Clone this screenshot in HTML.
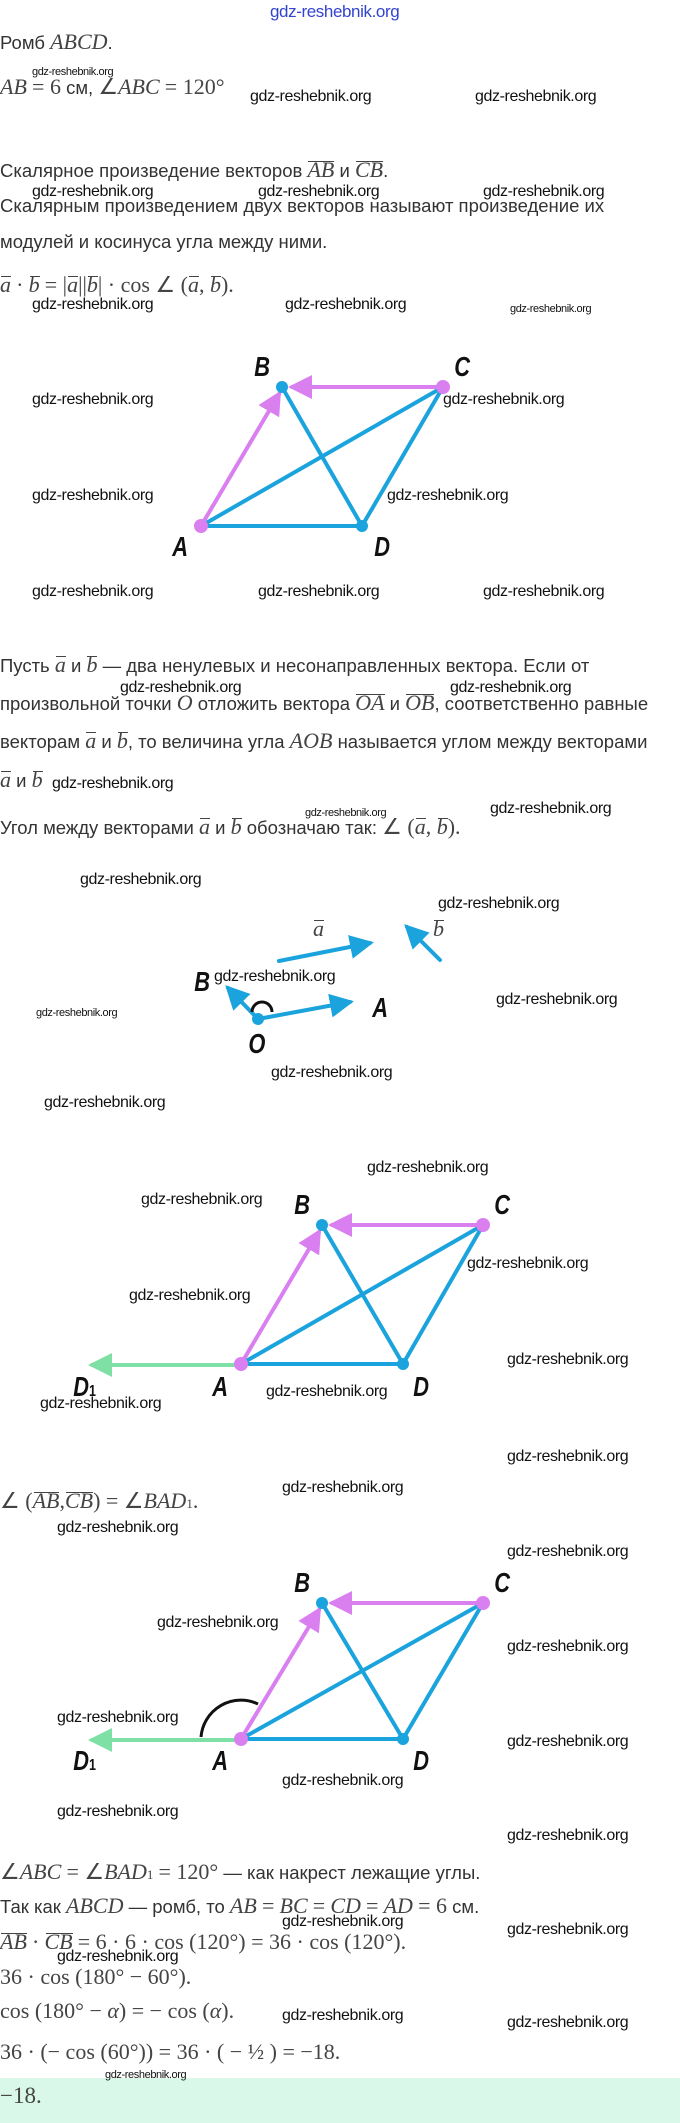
<!DOCTYPE html>
<html><head><meta charset="utf-8"><style>
body{margin:0;background:#fff;}
#p{position:relative;width:680px;height:2123px;overflow:hidden;background:#fff;font-family:"Liberation Sans",sans-serif;color:#333;}
.t{position:absolute;white-space:nowrap;font-size:18.5px;line-height:20px;}
.m{font-family:"Liberation Serif",serif;font-style:italic;font-size:22px;color:#444;}
.n{font-family:"Liberation Serif",serif;font-size:22px;color:#444;}
.w{position:absolute;white-space:nowrap;font-family:"Liberation Sans",sans-serif;font-size:16px;line-height:18px;color:#111;letter-spacing:-0.4px;}
.ws{font-size:11px;letter-spacing:-0.4px;}
.L{position:absolute;font-family:"Liberation Sans",sans-serif;font-weight:bold;font-style:italic;font-size:28px;line-height:26px;color:#111;transform:scaleX(0.78);}
.v{position:relative;display:inline-block;}
.v:before{content:"";position:absolute;left:1px;right:0;top:1px;border-top:1px solid #444;}
svg{position:absolute;left:0;top:0;}
</style></head><body><div id="p">

<div class="w" style="left:270px;top:3px;color:#3344cc;font-size:17px;">gdz-reshebnik.org</div>

<div class="t" style="left:0;top:32px;">Ромб <span class="m">ABCD</span>.</div>
<div class="w ws" style="left:32px;top:63px;">gdz-reshebnik.org</div>
<div class="t" style="left:0;top:77px;"><span class="m">AB</span> <span class="n">= 6</span> см, <span class="n">∠</span><span class="m">ABC</span> <span class="n">= 120°</span></div>
<div class="w" style="left:250px;top:88px;">gdz-reshebnik.org</div>
<div class="w" style="left:475px;top:88px;">gdz-reshebnik.org</div>

<div class="t" style="left:0;top:160px;">Скалярное произведение векторов <span class="m v">AB</span> и <span class="m v">CB</span>.</div>
<div class="w" style="left:32px;top:183px;">gdz-reshebnik.org</div>
<div class="w" style="left:258px;top:183px;">gdz-reshebnik.org</div>
<div class="w" style="left:483px;top:183px;">gdz-reshebnik.org</div>
<div class="t" style="left:0;top:196px;">Скалярным произведением двух векторов называют произведение их</div>
<div class="t" style="left:0;top:232px;">модулей и косинуса угла между ними.</div>
<div class="t" style="left:0;top:275px;"><span class="m v">a</span> <span class="n">·</span> <span class="m v">b</span> <span class="n">= |</span><span class="m v">a</span><span class="n">||</span><span class="m v">b</span><span class="n">| · cos ∠ (</span><span class="m v">a</span><span class="n">, </span><span class="m v">b</span><span class="n">).</span></div>
<div class="w" style="left:32px;top:296px;">gdz-reshebnik.org</div>
<div class="w" style="left:285px;top:296px;">gdz-reshebnik.org</div>
<div class="w ws" style="left:510px;top:300px;">gdz-reshebnik.org</div>

<svg width="680" height="2123">
<defs>
<marker id="ab" markerWidth="6" markerHeight="6" refX="5" refY="3" orient="auto" markerUnits="strokeWidth"><path d="M0,0 L6,3 L0,6z" fill="#1aa3dc"/></marker>
<marker id="ap" markerWidth="6" markerHeight="6" refX="5" refY="3" orient="auto" markerUnits="strokeWidth"><path d="M0,0 L6,3 L0,6z" fill="#d97fef"/></marker>
<marker id="ag" markerWidth="6" markerHeight="6" refX="5" refY="3" orient="auto" markerUnits="strokeWidth"><path d="M0,0 L6,3 L0,6z" fill="#7fe0a6"/></marker>
</defs>
<g stroke-width="4" stroke-linecap="round">
<line x1="282" y1="387" x2="362" y2="526" stroke="#1aa3dc"/>
<line x1="201" y1="526" x2="443" y2="387" stroke="#1aa3dc"/>
<line x1="201" y1="526" x2="362" y2="526" stroke="#1aa3dc"/>
<line x1="362" y1="526" x2="443" y2="387" stroke="#1aa3dc"/>
<line x1="201" y1="526" x2="279" y2="394" stroke="#d97fef" marker-end="url(#ap)"/>
<line x1="443" y1="387" x2="292" y2="387" stroke="#d97fef" marker-end="url(#ap)"/>
</g>
<circle cx="282" cy="387" r="6" fill="#1aa3dc"/><circle cx="362" cy="526" r="6" fill="#1aa3dc"/>
<circle cx="443" cy="387" r="7" fill="#d97fef"/><circle cx="201" cy="526" r="7" fill="#d97fef"/>

<g stroke="#1aa3dc" stroke-width="4" stroke-linecap="round">
<line x1="279" y1="961" x2="370" y2="943" marker-end="url(#ab)"/>
<line x1="440" y1="960" x2="407" y2="927" marker-end="url(#ab)"/>
<line x1="258" y1="1019" x2="350" y2="1002" marker-end="url(#ab)"/>
<line x1="258" y1="1019" x2="228" y2="988" marker-end="url(#ab)"/>
</g>
<path d="M252,1012 A10,10 0 0 1 272,1012" fill="none" stroke="#111" stroke-width="3"/>
<circle cx="258" cy="1019" r="6" fill="#1aa3dc"/>

<g stroke-width="4" stroke-linecap="round">
<line x1="322" y1="1225" x2="403" y2="1364" stroke="#1aa3dc"/>
<line x1="241" y1="1364" x2="483" y2="1225" stroke="#1aa3dc"/>
<line x1="241" y1="1364" x2="403" y2="1364" stroke="#1aa3dc"/>
<line x1="403" y1="1364" x2="483" y2="1225" stroke="#1aa3dc"/>
<line x1="241" y1="1364" x2="319" y2="1232" stroke="#d97fef" marker-end="url(#ap)"/>
<line x1="483" y1="1225" x2="332" y2="1225" stroke="#d97fef" marker-end="url(#ap)"/>
<line x1="241" y1="1365" x2="92" y2="1365" stroke="#7fe0a6" marker-end="url(#ag)"/>
</g>
<circle cx="322" cy="1225" r="6" fill="#1aa3dc"/><circle cx="403" cy="1364" r="6" fill="#1aa3dc"/>
<circle cx="483" cy="1225" r="7" fill="#d97fef"/><circle cx="241" cy="1364" r="7" fill="#d97fef"/>

<g stroke-width="4" stroke-linecap="round">
<line x1="322" y1="1603" x2="403" y2="1739" stroke="#1aa3dc"/>
<line x1="241" y1="1739" x2="483" y2="1603" stroke="#1aa3dc"/>
<line x1="241" y1="1739" x2="403" y2="1739" stroke="#1aa3dc"/>
<line x1="403" y1="1739" x2="483" y2="1603" stroke="#1aa3dc"/>
<line x1="241" y1="1739" x2="319" y2="1610" stroke="#d97fef" marker-end="url(#ap)"/>
<line x1="483" y1="1603" x2="332" y2="1603" stroke="#d97fef" marker-end="url(#ap)"/>
<line x1="241" y1="1740" x2="92" y2="1740" stroke="#7fe0a6" marker-end="url(#ag)"/>
</g>
<path d="M201,1737 A40,40 0 0 1 258,1704" fill="none" stroke="#111" stroke-width="3"/>
<circle cx="322" cy="1603" r="6" fill="#1aa3dc"/><circle cx="403" cy="1739" r="6" fill="#1aa3dc"/>
<circle cx="483" cy="1603" r="7" fill="#d97fef"/><circle cx="241" cy="1739" r="7" fill="#d97fef"/>
<rect x="0" y="2078" width="680" height="45" fill="#d9f8ea"/>
</svg>

<div class="L" style="left:252px;top:354px;">B</div>
<div class="L" style="left:452px;top:354px;">C</div>
<div class="L" style="left:170px;top:534px;">A</div>
<div class="L" style="left:372px;top:534px;">D</div>
<div class="w" style="left:32px;top:391px;">gdz-reshebnik.org</div>
<div class="w" style="left:443px;top:391px;">gdz-reshebnik.org</div>
<div class="w" style="left:32px;top:487px;">gdz-reshebnik.org</div>
<div class="w" style="left:387px;top:487px;">gdz-reshebnik.org</div>
<div class="w" style="left:32px;top:583px;">gdz-reshebnik.org</div>
<div class="w" style="left:258px;top:583px;">gdz-reshebnik.org</div>
<div class="w" style="left:483px;top:583px;">gdz-reshebnik.org</div>

<div class="t" style="left:0;top:655px;">Пусть <span class="m v">a</span> и <span class="m v">b</span> — два ненулевых и несонаправленных вектора. Если от</div>
<div class="w" style="left:120px;top:679px;">gdz-reshebnik.org</div>
<div class="w" style="left:450px;top:679px;">gdz-reshebnik.org</div>
<div class="t" style="left:0;top:693px;">произвольной точки <span class="m">O</span> отложить вектора <span class="m v">OA</span> и <span class="m v">OB</span>, соответственно равные</div>
<div class="t" style="left:0;top:731px;">векторам <span class="m v">a</span> и <span class="m v">b</span>, то величина угла <span class="m">AOB</span> называется углом между векторами</div>
<div class="t" style="left:0;top:770px;"><span class="m v">a</span> и <span class="m v">b</span></div>
<div class="w" style="left:52px;top:775px;">gdz-reshebnik.org</div>
<div class="w ws" style="left:305px;top:804px;">gdz-reshebnik.org</div>
<div class="w" style="left:490px;top:800px;">gdz-reshebnik.org</div>
<div class="t" style="left:0;top:817px;">Угол между векторами <span class="m v">a</span> и <span class="m v">b</span> обозначаю так: <span class="n">∠ (</span><span class="m v">a</span><span class="n">, </span><span class="m v">b</span><span class="n">).</span></div>
<div class="w" style="left:80px;top:871px;">gdz-reshebnik.org</div>
<div class="w" style="left:438px;top:895px;">gdz-reshebnik.org</div>
<div class="t" style="left:313px;top:919px;"><span class="m v">a</span></div>
<div class="t" style="left:433px;top:919px;"><span class="m v">b</span></div>
<div class="L" style="left:192px;top:969px;">B</div>
<div class="w" style="left:214px;top:968px;">gdz-reshebnik.org</div>
<div class="L" style="left:370px;top:995px;">A</div>
<div class="L" style="left:246px;top:1031px;">O</div>
<div class="w ws" style="left:36px;top:1004px;">gdz-reshebnik.org</div>
<div class="w" style="left:496px;top:991px;">gdz-reshebnik.org</div>
<div class="w" style="left:271px;top:1064px;">gdz-reshebnik.org</div>
<div class="w" style="left:44px;top:1094px;">gdz-reshebnik.org</div>

<div class="w" style="left:367px;top:1159px;">gdz-reshebnik.org</div>
<div class="w" style="left:141px;top:1191px;">gdz-reshebnik.org</div>
<div class="L" style="left:292px;top:1192px;">B</div>
<div class="L" style="left:492px;top:1192px;">C</div>
<div class="w" style="left:467px;top:1255px;">gdz-reshebnik.org</div>
<div class="w" style="left:129px;top:1287px;">gdz-reshebnik.org</div>
<div class="w" style="left:507px;top:1351px;">gdz-reshebnik.org</div>
<div class="L" style="left:70px;top:1374px;">D<span style="font-size:16px;font-style:normal">1</span></div>
<div class="L" style="left:210px;top:1374px;">A</div>
<div class="L" style="left:411px;top:1374px;">D</div>
<div class="w" style="left:266px;top:1383px;">gdz-reshebnik.org</div>
<div class="w" style="left:40px;top:1395px;">gdz-reshebnik.org</div>
<div class="w" style="left:507px;top:1448px;">gdz-reshebnik.org</div>
<div class="w" style="left:282px;top:1479px;">gdz-reshebnik.org</div>
<div class="t" style="left:0;top:1491px;"><span class="n">∠ (</span><span class="m v">AB</span><span class="n">,</span><span class="m v">CB</span><span class="n">) = ∠</span><span class="m">BAD</span><span class="n" style="font-size:13px">1</span><span class="n">.</span></div>
<div class="w" style="left:57px;top:1519px;">gdz-reshebnik.org</div>
<div class="w" style="left:507px;top:1543px;">gdz-reshebnik.org</div>
<div class="L" style="left:292px;top:1570px;">B</div>
<div class="L" style="left:492px;top:1570px;">C</div>
<div class="w" style="left:157px;top:1614px;">gdz-reshebnik.org</div>
<div class="w" style="left:507px;top:1638px;">gdz-reshebnik.org</div>
<div class="w" style="left:57px;top:1709px;">gdz-reshebnik.org</div>
<div class="w" style="left:507px;top:1733px;">gdz-reshebnik.org</div>
<div class="L" style="left:70px;top:1748px;">D<span style="font-size:16px;font-style:normal">1</span></div>
<div class="L" style="left:210px;top:1748px;">A</div>
<div class="L" style="left:411px;top:1748px;">D</div>
<div class="w" style="left:282px;top:1772px;">gdz-reshebnik.org</div>
<div class="w" style="left:57px;top:1803px;">gdz-reshebnik.org</div>
<div class="w" style="left:507px;top:1827px;">gdz-reshebnik.org</div>

<div class="t" style="left:0;top:1862px;"><span class="n">∠</span><span class="m">ABC</span> <span class="n">= ∠</span><span class="m">BAD</span><span class="n" style="font-size:13px">1</span> <span class="n">= 120°</span> — как накрест лежащие углы.</div>
<div class="t" style="left:0;top:1896px;">Так как <span class="m">ABCD</span> — ромб, то <span class="m">AB</span> <span class="n">=</span> <span class="m">BC</span> <span class="n">=</span> <span class="m">CD</span> <span class="n">=</span> <span class="m">AD</span> <span class="n">= 6</span> см.</div>
<div class="w" style="left:282px;top:1913px;">gdz-reshebnik.org</div>
<div class="w" style="left:507px;top:1921px;">gdz-reshebnik.org</div>
<div class="t" style="left:0;top:1932px;"><span class="m v">AB</span> <span class="n">·</span> <span class="m v">CB</span> <span class="n">= 6 · 6 · cos (120°) = 36 · cos (120°).</span></div>
<div class="w" style="left:57px;top:1948px;">gdz-reshebnik.org</div>
<div class="t" style="left:0;top:1967px;"><span class="n">36 · cos (180° − 60°).</span></div>
<div class="t" style="left:0;top:2001px;"><span class="n">cos (180° − </span><span class="m">α</span><span class="n">) = − cos (</span><span class="m">α</span><span class="n">).</span></div>
<div class="w" style="left:282px;top:2007px;">gdz-reshebnik.org</div>
<div class="w" style="left:507px;top:2014px;">gdz-reshebnik.org</div>
<div class="t" style="left:0;top:2042px;"><span class="n">36 · (− cos (60°)) = 36 · ( − ½ ) = −18.</span></div>
<div class="w ws" style="left:105px;top:2066px;">gdz-reshebnik.org</div>
<div class="t" style="left:0;top:2086px;"><span class="n" style="font-size:23px">−18.</span></div>
</div></body></html>
